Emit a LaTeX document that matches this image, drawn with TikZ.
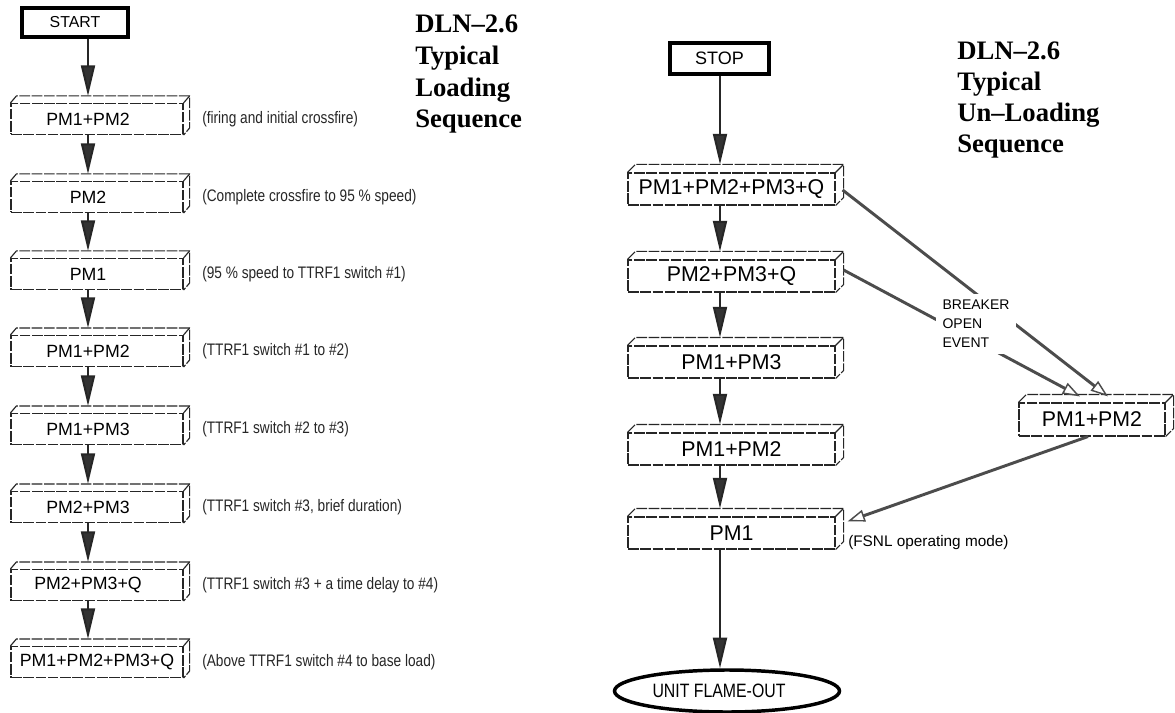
\documentclass[tikz,border=0pt]{standalone}
\usepackage{fontspec}
\setmainfont{Liberation Serif}
\setsansfont{Liberation Sans}
\newfontfamily\narrowsans[FakeStretch=0.82]{Liberation Sans}
\usetikzlibrary{arrows.meta,calc,shapes.geometric}

\newcommand\slabfaces[3]{%
  \draw[face] (#1.north west) -- ++(#2,-#3) -- ($(#1.north east)+(#2,-#3)$)
     -- ($(#1.south east)+(#2,-#3)$) -- (#1.south east);
  \draw[face] (#1.north east) -- ++(#2,-#3);}

\tikzset{
  face/.style={draw=black!85, line width=0.85pt, dash pattern=on 8pt off 1.2pt},
  lbox/.style={face, minimum width=129pt, minimum height=23.25pt, inner sep=0pt,
     font=\sffamily\fontsize{13.3}{15}\selectfont},
  lshift/.style={execute at begin node={\hspace*{-13.5pt}}},
  rbox/.style={face, minimum width=155.25pt, minimum height=24pt, inner sep=0pt,
     font=\sffamily\fontsize{16}{18}\selectfont},
  note/.style={anchor=west, inner sep=0pt, text=black!85,
     font=\narrowsans\fontsize{12.5}{14}\selectfont},
  flow/.style={draw=black!85, line width=1.5pt,
     -{Triangle[length=23pt,width=10.5pt,fill=black!80]}},
  brk/.style={draw=black!70, line width=2.2pt,
     -{Triangle[open,length=13pt,width=9pt,line width=1.1pt,fill=white]}},
  ttl/.style={anchor=base west, inner sep=0pt, font=\bfseries\fontsize{20}{23}\selectfont},
  term/.style={draw=black, line width=3pt, inner sep=0pt, font=\sffamily},
}

\begin{document}
\begin{tikzpicture}[x=0.75pt,y=-0.75pt]
\fill[white] (0,0) rectangle (1175,713);
\useasboundingbox (0,0) rectangle (1175,713);

% ---------------- titles ----------------
\node[ttl] (t1a) at (415,33) {DLN--2.6};
\node[ttl] (t1b) at (415,64.7) {Typical};
\node[ttl] (t1c) at (415,96.4) {Loading};
\node[ttl] (t1d) at (415,128) {Sequence};

\node[ttl] (t2a) at (957,60) {DLN--2.6};
\node[ttl] (t2b) at (957,91) {Typical};
\node[ttl] (t2c) at (957,122) {Un--Loading};
\node[ttl] (t2d) at (957,153) {Sequence};

% ---------------- loading sequence ----------------
\node[term, minimum width=79.5pt, minimum height=21.75pt,
      font=\sffamily\fontsize{11.9}{13}\selectfont] (start) at (75,22.5) {START};

\node[lbox,lshift] (l1) at (97,119) {PM1+PM2};
\node[lbox,lshift] (l2) at (97,197) {PM2};
\node[lbox,lshift] (l3) at (97,274) {PM1};
\node[lbox,lshift] (l4) at (97,351) {PM1+PM2};
\node[lbox,lshift] (l5) at (97,429) {PM1+PM3};
\node[lbox,lshift] (l6) at (97,507) {PM2+PM3};
\node[lbox,lshift] (l7) at (97,585) {PM2+PM3+Q};
\node[lbox] (l8) at (97,662) {PM1+PM2+PM3+Q};

\foreach \n in {l1,l2,l3,l4,l5,l6,l7,l8}{
  \slabfaces{\n}{6}{7}
  \coordinate (\n t) at ($(\n.north)+(-9,-7)$);
}

\draw[flow] (start.south -| l1t) -- (l1t);
\draw[flow] (l1.south -| l2t) -- (l2t);
\draw[flow] (l2.south -| l3t) -- (l3t);
\draw[flow] (l3.south -| l4t) -- (l4t);
\draw[flow] (l4.south -| l5t) -- (l5t);
\draw[flow] (l5.south -| l6t) -- (l6t);
\draw[flow] (l6.south -| l7t) -- (l7t);
\draw[flow] (l7.south -| l8t) -- (l8t);

\node[note] (n1) at (202,119) {(firing and initial crossfire)};
\node[note] (n2) at (202,197) {(Complete crossfire to 95 \% speed)};
\node[note] (n3) at (202,274) {(95 \% speed to TTRF1 switch \#1)};
\node[note] (n4) at (202,351) {(TTRF1 switch \#1 to \#2)};
\node[note] (n5) at (202,429) {(TTRF1 switch \#2 to \#3)};
\node[note] (n6) at (202,507) {(TTRF1 switch \#3, brief duration)};
\node[note] (n7) at (202,585) {(TTRF1 switch \#3 + a time delay to \#4)};
\node[note] (n8) at (202,662) {(Above TTRF1 switch \#4 to base load)};

% ---------------- un-loading sequence ----------------
\node[term, minimum width=74.25pt, minimum height=23.25pt,
      font=\sffamily\fontsize{13.5}{15}\selectfont] (stop) at (719.5,58.5) {STOP};

\node[rbox] (ra) at (731.5,189) {PM1+PM2+PM3+Q};
\node[rbox] (rb) at (731.5,276) {PM2+PM3+Q};
\node[rbox] (rc) at (731.5,362) {PM1+PM3};
\node[rbox] (rd) at (731.5,449) {PM1+PM2};
\node[rbox] (re) at (731.5,533) {PM1};
\node[rbox, minimum width=109.5pt, minimum height=24.75pt] (rr) at (1092,419.5) {PM1+PM2};

\foreach \n in {ra,rb,rc,rd,re,rr}{
  \slabfaces{\n}{8}{8}
  \coordinate (\n t) at ($(\n.north)+(-11.5,-8)$);
}

\node[ellipse, draw=black, line width=2.6pt, minimum width=168.75pt, minimum height=31.5pt,
      inner sep=0pt, font=\narrowsans\fontsize{14.5}{16}\selectfont] (flame) at (727,691)
      {\hspace*{-12pt}UNIT FLAME-OUT};
\coordinate (flamet) at ($(flame.north)+(-7,0)$);

\draw[flow] (stop.south -| rat) -- (rat);
\draw[flow] (ra.south -| rbt) -- (rbt);
\draw[flow] (rb.south -| rct) -- (rct);
\draw[flow] (rc.south -| rdt) -- (rdt);
\draw[flow] (rd.south -| ret) -- (ret);
\draw[flow] (re.south -| flamet) -- (flamet);

% breaker open event connectors
\draw[brk] ($(ra.east)+(7,1)$) -- ($(rr.north)+(16,-6)$);
\draw[brk] ($(rb.east)+(8,-6)$) -- ($(rr.north)+(-12,-6)$);
\draw[brk] ($(rr.south)+(-4,0)$) -- ($(re.north east)+(12,5)$);

\node[fill=white, inner sep=5pt, align=left,
      font=\sffamily\fontsize{10.5}{14.25}\selectfont] (brklabel) at (976,324)
      {BREAKER\\OPEN\\EVENT};

\node[anchor=west, inner sep=0pt, font=\sffamily\fontsize{11.5}{13}\selectfont]
      (fsnl) at (848,543) {(FSNL operating mode)};
\end{tikzpicture}
\end{document}
